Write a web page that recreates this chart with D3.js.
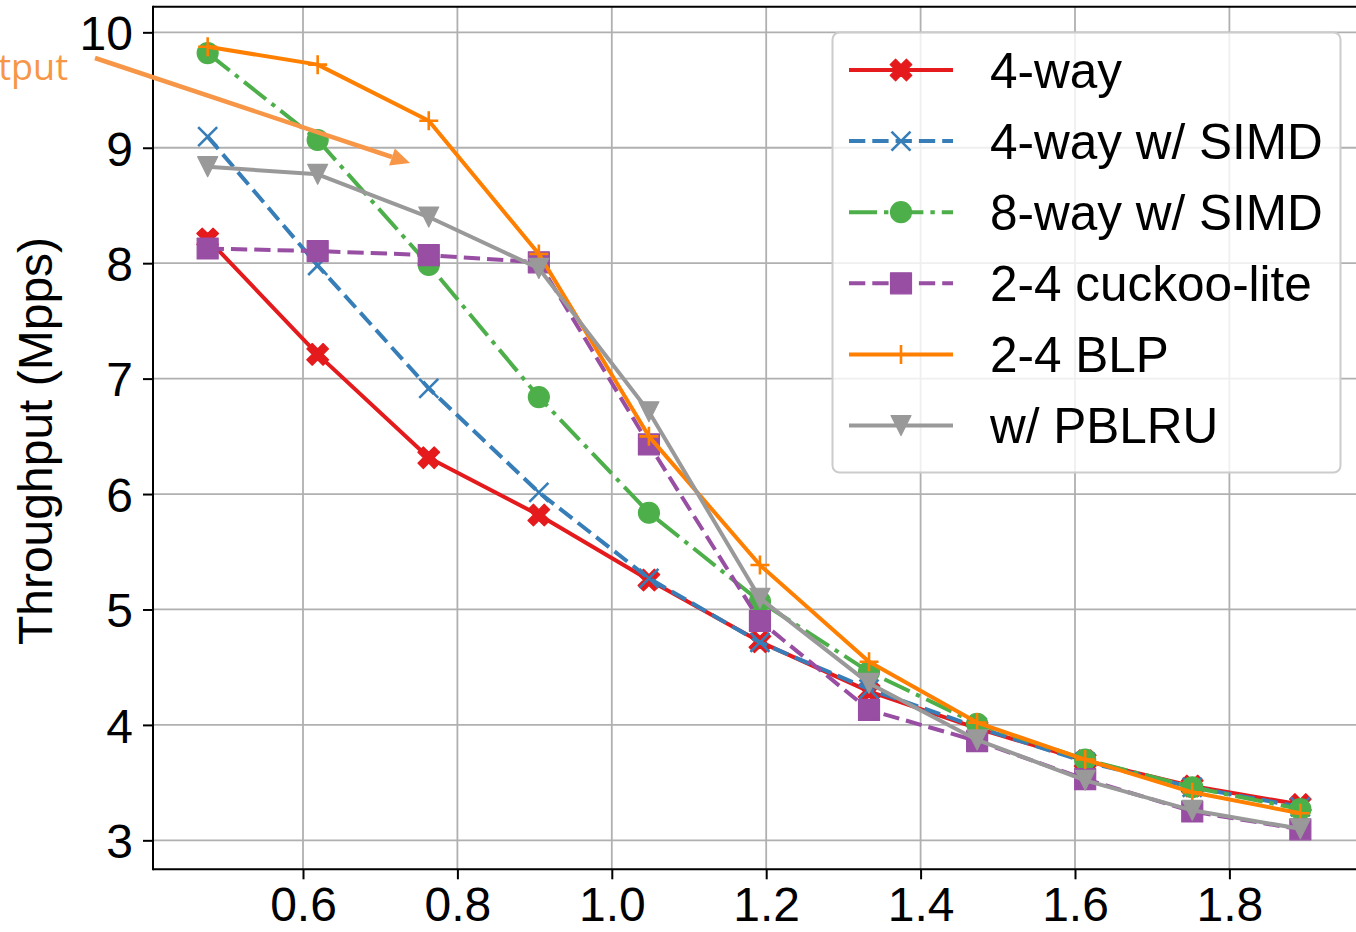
<!DOCTYPE html>
<html>
<head>
<meta charset="utf-8">
<script src="https://cdn.jsdelivr.net/npm/d3@7"></script>
<style>
  html, body { margin: 0; padding: 0; background: #fff; }
  svg { display: block; font-family: "Liberation Sans", Arial, Helvetica, sans-serif; }
</style>
</head>
<body>
<script>
// load factor (x) values
var loads = [0.4765, 0.619, 0.7629, 0.9055, 1.0481, 1.1919, 1.3332, 1.4732, 1.6132, 1.7519, 1.8919];

// throughput (Mpps) per scheme
var fourWay      = [8.21, 7.21, 6.315, 5.818, 5.255, 4.72, 4.29, 3.97, 3.69, 3.47, 3.31];
var fourWaySimd  = [9.096, 7.98, 6.916, 6.015, 5.27, 4.715, 4.31, 3.98, 3.68, 3.46, 3.29];
var eightWaySimd = [9.82, 9.067, 7.985, 6.84, 5.838, 5.07, 4.46, 4.01, 3.70, 3.46, 3.27];
var cuckooLite   = [8.127, 8.105, 8.07, 8.007, 6.43, 4.90, 4.13, 3.86, 3.53, 3.25, 3.095];
var blp          = [9.875, 9.72, 9.234, 8.08, 6.50, 5.385, 4.547, 4.02, 3.70, 3.416, 3.234];
var pblru        = [8.836, 8.77, 8.40, 7.955, 6.713, 5.097, 4.36, 3.87, 3.52, 3.26, 3.10];

var seriesNames = ["4-way", "4-way w/ SIMD", "8-way w/ SIMD", "2-4 cuckoo-lite", "2-4 BLP", "w/ PBLRU"];
var xTicks = [0.6, 0.8, 1.0, 1.2, 1.4, 1.6, 1.8];
var yTicks = [3, 4, 5, 6, 7, 8, 9, 10];

var W = 1356, H = 932;
var margin = {left: 153, right: 1355, top: 6.7, bottom: 869.3}; // plot box in pixels

var series = [
  { name: seriesNames[0], values: fourWay,      color: "#e41a1c", dash: null,         marker: "Xfill" },
  { name: seriesNames[1], values: fourWaySimd,  color: "#377eb8", dash: "16.3,7",     marker: "x" },
  { name: seriesNames[2], values: eightWaySimd, color: "#4daf4a", dash: "28,7,4.4,7", marker: "circle" },
  { name: seriesNames[3], values: cuckooLite,   color: "#984ea3", dash: "16.3,7",     marker: "square" },
  { name: seriesNames[4], values: blp,          color: "#ff7f00", dash: null,         marker: "plus" },
  { name: seriesNames[5], values: pblru,        color: "#999999", dash: null,         marker: "tri" }
];

var x = d3.scaleLinear().domain([0.4057, 1.9627]).range([margin.left, margin.right]);
var y = d3.scaleLinear().domain([2.749, 10.222]).range([margin.bottom, margin.top]);

var svg = d3.select("body").append("svg").attr("width", W).attr("height", H);

svg.append("defs").append("clipPath").attr("id", "plotclip")
  .append("rect").attr("x", margin.left).attr("y", margin.top)
  .attr("width", W - margin.left).attr("height", margin.bottom - margin.top);

// grid
var grid = svg.append("g");
grid.selectAll(".gx").data(xTicks).enter().append("line")
  .attr("x1", function(d) { return x(d); }).attr("x2", function(d) { return x(d); })
  .attr("y1", margin.top).attr("y2", margin.bottom)
  .attr("stroke", "#b0b0b0").attr("stroke-width", 1.8);
grid.selectAll(".gy").data(yTicks).enter().append("line")
  .attr("y1", function(d) { return y(d); }).attr("y2", function(d) { return y(d); })
  .attr("x1", margin.left).attr("x2", W)
  .attr("stroke", "#b0b0b0").attr("stroke-width", 1.8);

// marker shapes
function markerPath(kind) {
  if (kind === "Xfill") {
    var L = 11.5, a = L / 3;
    var pts = [[-a,-L],[a,-L],[a,-a],[L,-a],[L,a],[a,a],[a,L],[-a,L],[-a,a],[-L,a],[-L,-a],[-a,-a]];
    var c = Math.SQRT1_2;
    return "M" + pts.map(function(p) { return [(p[0]-p[1])*c, (p[0]+p[1])*c].join(","); }).join("L") + "Z";
  }
  if (kind === "x") return "M-9.5,-9.5L9.5,9.5M-9.5,9.5L9.5,-9.5";
  if (kind === "plus") return "M-9.5,0L9.5,0M0,-9.5L0,9.5";
  if (kind === "tri") return "M-10,-10L10,-10L0,10Z";
  if (kind === "square") return "M-10.5,-10.5L10.5,-10.5L10.5,10.5L-10.5,10.5Z";
  return d3.symbol().type(d3.symbolCircle).size(Math.PI * 10.5 * 10.5)();
}
function drawMarker(g, s, px, py) {
  var p = g.append("path").attr("d", markerPath(s.marker)).attr("transform", "translate(" + px + "," + py + ")");
  if (s.marker === "x" || s.marker === "plus") {
    p.attr("fill", "none").attr("stroke", s.color).attr("stroke-width", 2.6);
  } else {
    p.attr("fill", s.color).attr("stroke", s.color).attr("stroke-width", 1.2).attr("stroke-linejoin", "round");
  }
}

var plot = svg.append("g").attr("clip-path", "url(#plotclip)");
var line = d3.line().x(function(d, i) { return x(loads[i]); }).y(function(d) { return y(d); });

series.forEach(function(s) {
  var g = plot.append("g");
  g.append("path").datum(s.values).attr("d", line)
    .attr("fill", "none").attr("stroke", s.color).attr("stroke-width", 4)
    .attr("stroke-dasharray", s.dash).attr("stroke-linejoin", "round");
  s.values.forEach(function(v, i) { drawMarker(g, s, x(loads[i]), y(v)); });
});

// spines: left, top, bottom (right spine falls at the picture edge)
var spine = svg.append("g").attr("stroke", "#000").attr("stroke-width", 2);
spine.append("line").attr("x1", margin.left).attr("x2", margin.left).attr("y1", margin.top - 1).attr("y2", margin.bottom + 1);
spine.append("line").attr("x1", margin.left).attr("x2", W).attr("y1", margin.top).attr("y2", margin.top);
spine.append("line").attr("x1", margin.left).attr("x2", W).attr("y1", margin.bottom).attr("y2", margin.bottom);

// axes
var xAxis = d3.axisBottom(x).tickValues(xTicks).tickFormat(d3.format(".1f")).tickSize(10).tickPadding(8);
var yAxis = d3.axisLeft(y).tickValues(yTicks).tickFormat(d3.format("d")).tickSize(10).tickPadding(10);

var gx = svg.append("g").attr("transform", "translate(0," + margin.bottom + ")").call(xAxis);
var gy = svg.append("g").attr("transform", "translate(" + margin.left + ",0)").call(yAxis);
[gx, gy].forEach(function(g) {
  g.select(".domain").remove();
  g.selectAll(".tick line").attr("stroke", "#000").attr("stroke-width", 2);
  g.selectAll(".tick text").attr("fill", "#000").style("font-size", "48px")
    .style("font-family", "'Liberation Sans', Arial, sans-serif");
});
gx.selectAll(".tick text").attr("dy", "0.71em");
gy.selectAll(".tick text").attr("dy", "0.36em");

// y label
svg.append("text").attr("transform", "translate(52,441) rotate(-90)")
  .attr("text-anchor", "middle").style("font-size", "48px").attr("fill", "#000")
  .text("Throughput (Mpps)");

// orange annotation (cut off at the left edge)
var annColor = "#f79646";
svg.append("text").attr("x", 68).attr("y", 80).attr("text-anchor", "end")
  .style("font-family", "'Open Sans', sans-serif").style("font-size", "36px")
  .attr("fill", annColor).text("tput");
var ax0 = 95, ay0 = 58, ax1 = 410, ay1 = 163;
var ang = Math.atan2(ay1 - ay0, ax1 - ax0);
var hl = 19, hw = 9;
var bx = ax1 - hl * Math.cos(ang), by = ay1 - hl * Math.sin(ang);
svg.append("line").attr("x1", ax0).attr("y1", ay0).attr("x2", bx).attr("y2", by)
  .attr("stroke", annColor).attr("stroke-width", 4.5);
svg.append("path")
  .attr("d", "M" + ax1 + "," + ay1 +
    "L" + (bx + hw * Math.sin(ang)) + "," + (by - hw * Math.cos(ang)) +
    "L" + (bx - hw * Math.sin(ang)) + "," + (by + hw * Math.cos(ang)) + "Z")
  .attr("fill", annColor);

// legend
var lg = svg.append("g");
lg.append("rect").attr("x", 832.5).attr("y", 32.5).attr("width", 508).attr("height", 440)
  .attr("rx", 7).attr("fill", "#fff").attr("fill-opacity", 0.8)
  .attr("stroke", "#cccccc").attr("stroke-width", 2);
series.forEach(function(s, i) {
  var cy = 70 + i * 71.1;
  var g = lg.append("g");
  g.append("line").attr("x1", 849).attr("x2", 953).attr("y1", cy).attr("y2", cy)
    .attr("stroke", s.color).attr("stroke-width", 4).attr("stroke-dasharray", s.dash);
  drawMarker(g, s, 901, cy);
  g.append("text").attr("x", 990).attr("y", cy + 17.5).style("font-size", "49.5px").attr("fill", "#000").text(s.name);
});
</script>
</body>
</html>
